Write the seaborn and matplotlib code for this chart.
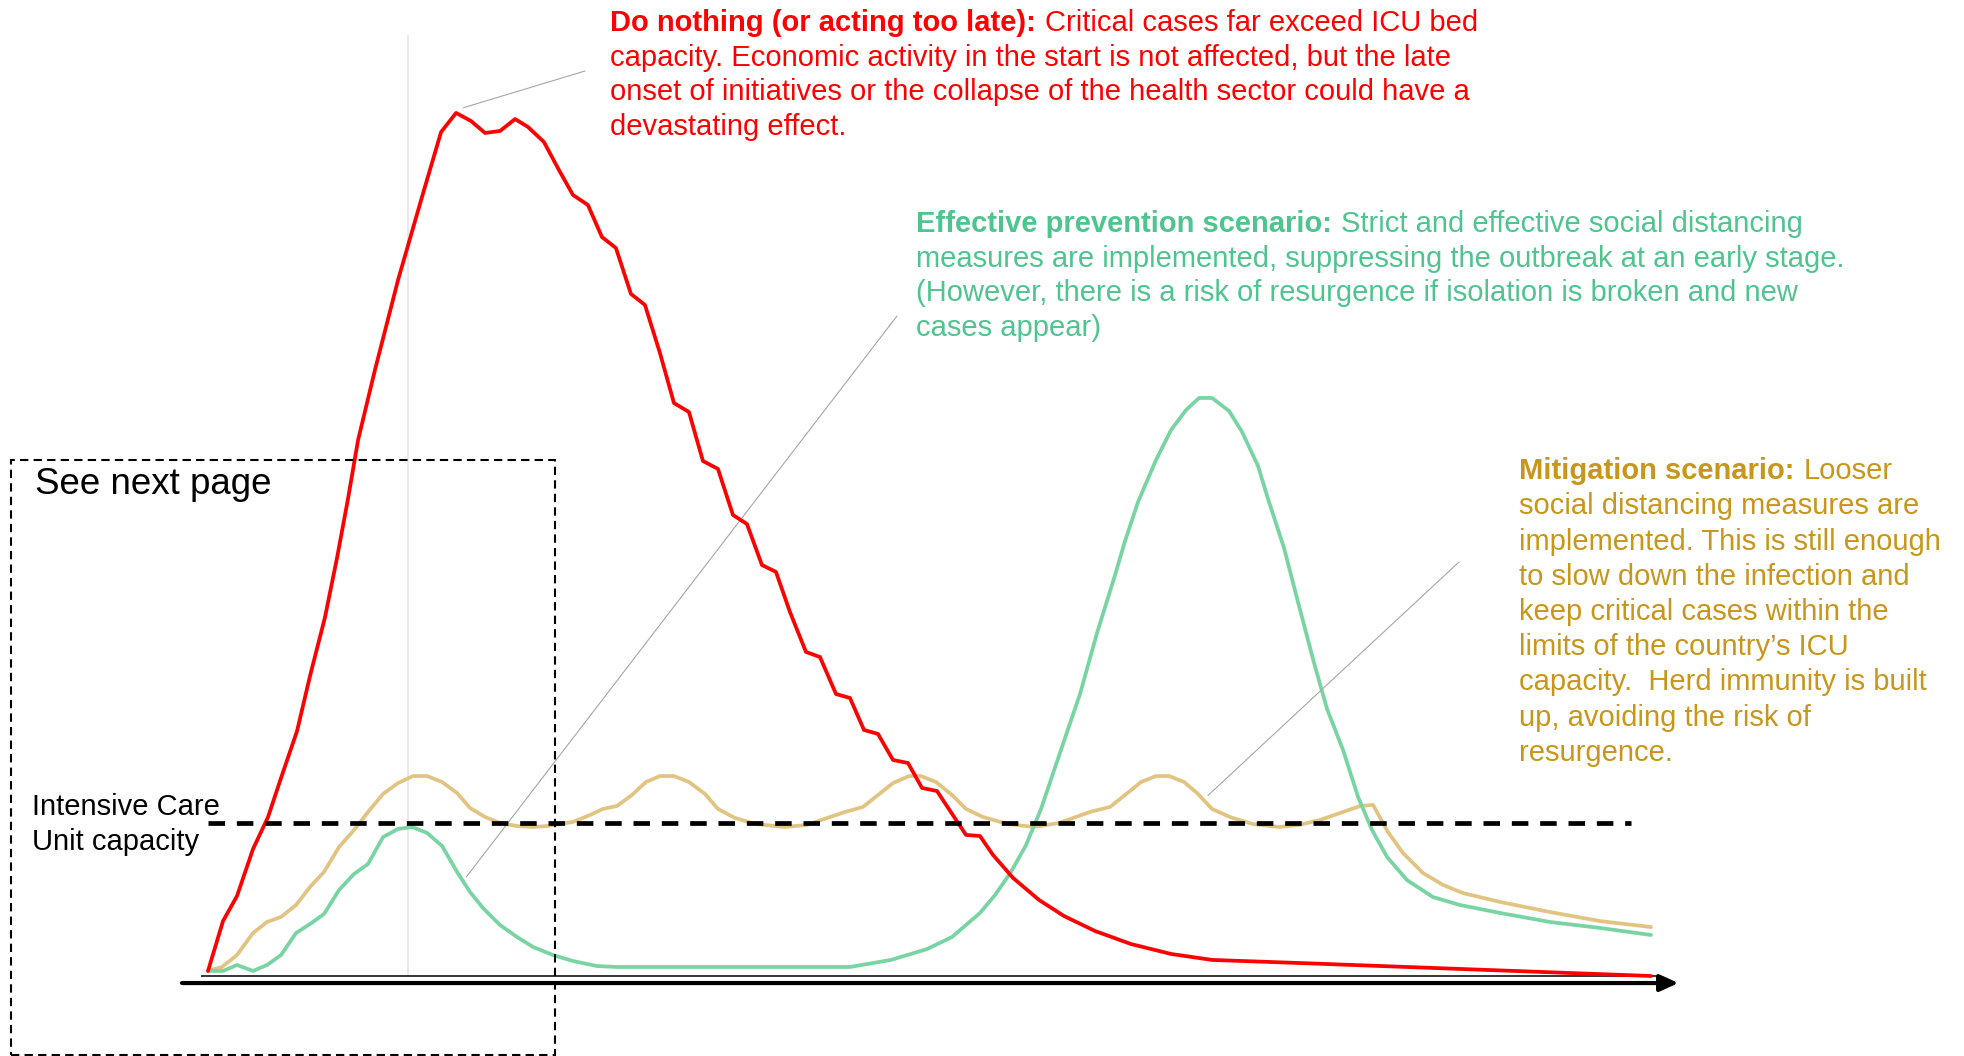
import numpy as np
import matplotlib
matplotlib.use("Agg")
import matplotlib.pyplot as plt
from matplotlib.patches import Rectangle
from matplotlib.transforms import IdentityTransform
import seaborn as sns

# --- data: critical cases over time (ICU capacity = 100) ---
ICU_CAPACITY = 100

red_day = [0.0, 1.04, 2.01, 3.12, 4.16, 5.06, 6.17, 7.07, 8.11, 8.94, 9.70, 10.40,
           11.57, 13.17, 14.83, 16.15, 17.19, 18.23, 19.20, 20.24, 21.28, 22.18,
           23.28, 24.32, 25.29, 26.33, 27.30, 28.27, 29.31, 30.28, 31.32, 32.29,
           33.33, 34.30, 35.34, 36.38, 37.35, 38.39, 39.36, 40.33, 41.44, 42.41,
           43.52, 44.49, 45.46, 46.43, 47.47, 48.51, 49.48, 50.52, 52.53, 53.50,
           54.40, 55.79, 57.59, 59.32, 61.47, 63.96, 66.74, 69.58, 75.6, 100.0]
red_cases = [3.3, 35.9, 52.3, 83.0, 103.9, 129.4, 160.1, 196.1, 234.6, 273.2, 311.8,
             350.3, 396.1, 454.9, 509.2, 551.6, 564.1, 558.8, 551.0, 552.3, 560.1,
             554.9, 545.1, 526.8, 510.5, 503.9, 483.0, 475.8, 445.8, 438.6, 407.2,
             374.5, 368.6, 336.6, 331.4, 301.3, 295.4, 268.6, 264.1, 237.9, 211.8,
             208.5, 184.3, 181.7, 160.8, 158.2, 141.2, 139.2, 122.9, 120.9, 92.2,
             91.5, 79.1, 64.1, 49.7, 39.2, 29.4, 20.9, 14.4, 10.5, 8.5, 0.0]

green_day = [0.0, 1.04, 2.01, 3.12, 4.09, 5.06, 6.10, 7.07, 8.04, 9.08, 10.12, 11.09,
             12.13, 13.17, 14.14, 15.18, 16.22, 17.26, 18.16, 19.06, 20.24, 21.41,
             22.52, 23.91, 25.29, 26.96, 28.34, 44.49, 47.33, 49.83, 51.56, 53.50,
             54.54, 55.65, 56.69, 57.73, 59.18, 60.43, 61.61, 62.86, 63.55, 64.45,
             65.70, 66.74, 67.78, 68.68, 69.58, 70.76, 71.66, 72.77, 73.46, 74.57,
             75.61, 76.65, 77.55, 78.66, 79.70, 80.67, 81.71, 83.09, 84.89, 86.76,
             89.54, 93.00, 96.47, 100.0]
green_cases = [3.3, 3.3, 7.2, 3.3, 7.2, 13.7, 28.1, 34.0, 40.5, 56.2, 66.7, 73.2,
               90.8, 96.1, 97.4, 93.5, 85.0, 68.0, 54.9, 44.4, 33.3, 25.5, 19.0,
               13.7, 9.8, 6.5, 5.9, 5.9, 10.5, 17.6, 25.5, 41.2, 52.9, 68.0, 85.6,
               109.2, 149.7, 184.3, 224.2, 262.1, 284.3, 309.8, 337.3, 356.9, 369.9,
               377.8, 377.8, 369.3, 355.6, 333.3, 311.8, 279.7, 241.8, 204.6, 174.5,
               147.7, 117.0, 95.4, 77.8, 62.7, 51.6, 46.4, 41.2, 35.3, 31.4, 26.8]

yellow_day = [0.0, 0.97, 2.01, 3.12, 4.09, 5.06, 6.10, 7.07, 8.04, 9.08, 10.12, 11.09,
              12.13, 13.17, 14.21, 15.18, 16.22, 17.26, 18.16, 19.20, 20.24, 21.41,
              22.52, 23.49, 25.29, 26.47, 27.37, 28.34, 29.38, 30.35, 31.32, 32.29,
              33.33, 34.44, 35.34, 36.52, 37.98, 39.92, 41.51, 42.69, 44.14, 45.39,
              46.43, 47.47, 48.58, 49.41, 50.45, 51.56, 52.53, 53.71, 55.44, 57.24,
              58.97, 61.12, 62.51, 63.55, 64.66, 65.70, 66.60, 67.64, 68.54, 69.58,
              70.82, 72.42, 74.22, 75.61, 77.06, 78.66, 79.83, 80.74, 81.77, 82.81,
              84.20, 85.59, 86.97, 89.54, 93.00, 96.47, 100.0]
yellow_cases = [3.3, 5.9, 13.7, 28.1, 35.3, 38.6, 46.4, 58.2, 68.0, 84.3, 95.4, 107.2,
                119.0, 126.1, 130.7, 130.7, 126.8, 119.6, 109.8, 103.9, 100.0, 98.0,
                97.4, 98.0, 100.7, 105.2, 109.2, 111.1, 118.3, 126.8, 130.7, 130.7,
                126.8, 119.0, 109.2, 103.3, 99.3, 97.4, 98.7, 102.6, 107.2, 110.5,
                118.3, 126.1, 130.7, 130.7, 126.8, 118.3, 109.2, 103.9, 99.3, 97.4,
                100.0, 107.2, 110.5, 118.3, 126.8, 130.7, 130.7, 126.8, 119.6, 109.2,
                103.9, 99.3, 97.4, 98.7, 102.0, 107.2, 111.1, 111.8, 94.1, 80.4,
                67.3, 59.5, 54.2, 48.4, 41.8, 35.9, 32.0]

first_wave_day = 13.86        # thin grey marker
note_days = {"red": 17.7, "green": 17.9, "yellow": 69.3}

# --- text ---
red_bold = "Do nothing (or acting too late):"
red_lines = ["Critical cases far exceed ICU bed",
             "capacity. Economic activity in the start is not affected, but the late",
             "onset of initiatives or the collapse of the health sector could have a",
             "devastating effect."]
green_bold = "Effective prevention scenario:"
green_lines = ["Strict and effective social distancing",
               "measures are implemented, suppressing the outbreak at an early stage.",
               "(However, there is a risk of resurgence if isolation is broken and new",
               "cases appear)"]
yellow_bold = "Mitigation scenario:"
yellow_lines = ["Looser",
                "social distancing measures are",
                "implemented. This is still enough",
                "to slow down the infection and",
                "keep critical cases within the",
                "limits of the country\u2019s ICU",
                "capacity.  Herd immunity is built",
                "up, avoiding the risk of",
                "resurgence."]
icu_label = ["Intensive Care", "Unit capacity"]

# --- layout (figure pixels) ---
W, H = 1964, 1056
X0_PX, PX_PER_DAY = 208, 14.43
Y0_PX, PX_PER_CASE = 976, 1.53
RED, GREEN, YELLOW = "#FF0000", "#78D5A3", "#E2C482"
GREEN_TXT, YELLOW_TXT = "#4FC48F", "#C8961A"
CURVE_LW = 2.7

sns.set_theme(style="white")
plt.rcParams["font.family"] = ["Liberation Sans", "DejaVu Sans"]

fig = plt.figure(figsize=(W / 100, H / 100), dpi=100)
fig.patch.set_facecolor("white")
ax = fig.add_axes([0, 0, 1, 1])
ax.set_xlim(-X0_PX / PX_PER_DAY, (W - X0_PX) / PX_PER_DAY)
ax.set_ylim(-(H - Y0_PX) / PX_PER_CASE, Y0_PX / PX_PER_CASE)
ax.axis("off")

# grey marker of the first wave
ax.vlines(first_wave_day, 0, 615, color="#E6E6E6", lw=1.2, zorder=1)

# curves
sns.lineplot(x=yellow_day, y=yellow_cases, color=YELLOW, linewidth=CURVE_LW, ax=ax,
             sort=False, estimator=None, zorder=3)
sns.lineplot(x=green_day, y=green_cases, color=GREEN, linewidth=CURVE_LW, ax=ax,
             sort=False, estimator=None, zorder=3)
sns.lineplot(x=red_day, y=red_cases, color=RED, linewidth=CURVE_LW, ax=ax,
             sort=False, estimator=None, zorder=4)

# ICU capacity line
ax.hlines(ICU_CAPACITY, 0, 98.6, color="black", lw=3.4,
          linestyles=[(0, (3.5, 2.5))], zorder=5)

# time axis: thin line + thick arrow
ax.hlines(-0.3, -0.5, 100.5, color="black", lw=1.1, zorder=2)
ax.annotate("", xy=(101.9, -4.6), xytext=(-1.8, -4.6),
            arrowprops=dict(arrowstyle="-|>,head_length=0.55,head_width=0.25",
                            color="black", lw=3.0, shrinkA=0, shrinkB=0,
                            mutation_scale=20))

# leader lines from the notes to the curves
leaders = [(note_days["red"], red_day, red_cases, (585, 71)),
           (note_days["green"], green_day, green_cases, (897, 316)),
           (note_days["yellow"], yellow_day, yellow_cases, (1459, 562))]
for d, xs, ys, (tx, ty) in leaders:
    ax.annotate("", xy=(d, np.interp(d, xs, ys) + 6), xycoords="data",
                xytext=(tx, H - ty), textcoords="figure pixels",
                arrowprops=dict(arrowstyle="-", color="#A6A6A6", lw=0.8,
                                shrinkA=0, shrinkB=0))

# dashed "see next page" box
fig.add_artist(Rectangle((11, 1), 544, 595, transform=IdentityTransform(),
                         fill=False, ec="black", lw=1.5, ls=(0, (4, 2.5))))

renderer = fig.canvas.get_renderer()


def note(px, baselines, lines, color, bold=None, size=21):
    for i, (py, s) in enumerate(zip(baselines, lines)):
        x = px
        if i == 0 and bold:
            t = fig.text(x / W, 1 - py / H, bold, fontsize=size, color=color,
                         fontweight="bold", va="baseline", ha="left")
            x = t.get_window_extent(renderer).x1 + 9
        fig.text(x / W, 1 - py / H, s, fontsize=size, color=color,
                 va="baseline", ha="left")


note(610, [31, 66, 100, 135], red_lines, RED, red_bold)
note(916, [232, 267, 301, 336], green_lines, GREEN_TXT, green_bold)
note(1519, [479 + 35.25 * k for k in range(9)], yellow_lines, YELLOW_TXT, yellow_bold)
note(32, [815, 850], icu_label, "black")
note(35, [494], ["See next page"], "black", size=26.5)

fig.savefig("out.png", dpi=100, facecolor="white")
